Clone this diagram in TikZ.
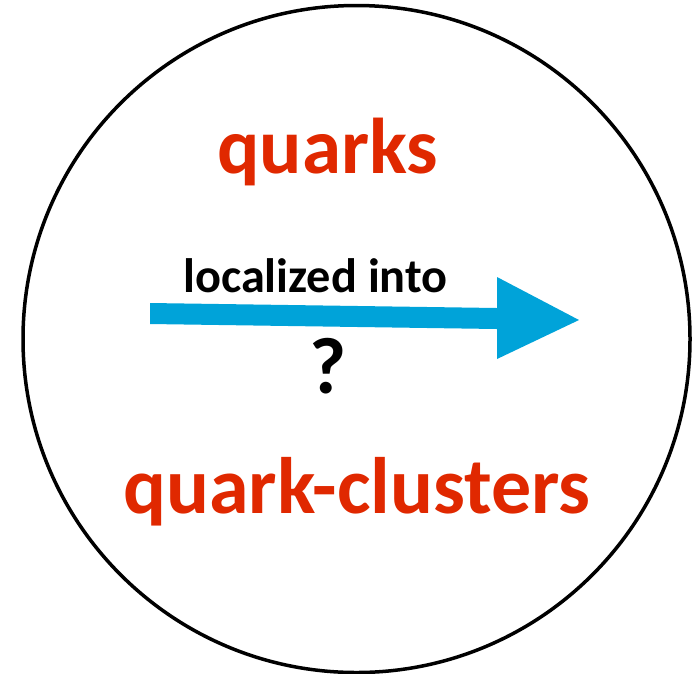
\documentclass[tikz,border=0pt]{standalone}
\usepackage{fontspec}
\setmainfont{Carlito}
\definecolor{qred}{RGB}{224,40,0}
\definecolor{qblue}{RGB}{0,163,217}
\begin{document}
\begin{tikzpicture}[x=1pt,y=-1pt,
  redlabel/.style={inner sep=0pt,anchor=base west,text=qred,font=\bfseries\fontsize{79}{79}\selectfont},
  blacklabel/.style={inner sep=0pt,anchor=base west,text=black,font=\bfseries\fontsize{48.3}{48.3}\selectfont}]
\useasboundingbox (0,0) rectangle (692,673);
\node[draw,line width=3.5pt,circle,minimum size=667pt,inner sep=0pt] (ring) at (356.5,339) {};
\node[redlabel] (quarks) at (217,173) {quarks};
\node[redlabel,font=\bfseries\fontsize{80}{80}\selectfont] (clusters) at (123,513) {quark-clusters};
\node[blacklabel] (loc) at (183,292) {localized into};
\node[blacklabel,font=\bfseries\fontsize{80}{80}\selectfont] (q) at (309,393) {?};
\coordinate (s1) at (150,303);
\coordinate (s2) at (150,324);
\coordinate (tip) at (579,320);
\fill[qblue] (s1) -- (497,308) -- (497,277) -- (tip) -- (497,359) -- (497,329) -- (s2) -- cycle;
\end{tikzpicture}
\end{document}
